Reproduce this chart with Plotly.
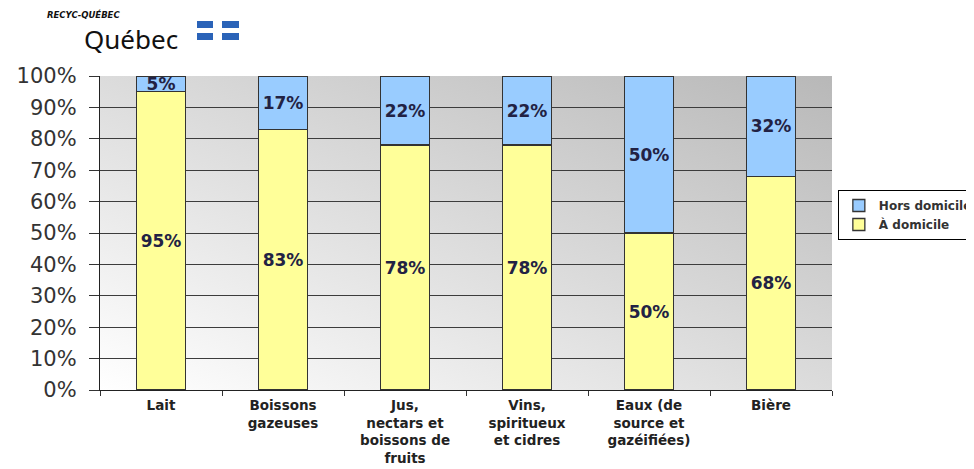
import base64
import plotly.graph_objects as go

categories = [
    "Lait",
    "Boissons<br>gazeuses",
    "Jus,<br>nectars et<br>boissons de<br>fruits",
    "Vins,<br>spiritueux<br>et cidres",
    "Eaux (de<br>source et<br>gazéifiées)",
    "Bière",
]
a_domicile = [95, 83, 78, 78, 50, 68]
hors_domicile = [5, 17, 22, 22, 50, 32]
y_ticks = [0, 10, 20, 30, 40, 50, 60, 70, 80, 90, 100]
y_tick_labels = [f"{v}%" for v in y_ticks]

text_color = "#222244"
bar_font = dict(family="DejaVu Sans", size=17, color=text_color)

fig = go.Figure()
fig.add_trace(go.Bar(
    name="<b>À domicile</b>", x=categories, y=a_domicile,
    marker=dict(color="#FFFF99", line=dict(color="#333333", width=1.3)),
    text=[f"<b>{v}%</b>" for v in a_domicile],
    textposition="inside", insidetextanchor="middle", textangle=0,
    constraintext="none", textfont=bar_font,
))
fig.add_trace(go.Bar(
    name="<b>Hors domicile</b>", x=categories, y=hors_domicile,
    marker=dict(color="#99CCFF", line=dict(color="#333333", width=1.3)),
    text=[f"<b>{v}%</b>" for v in hors_domicile],
    textposition="inside", insidetextanchor="middle", textangle=0,
    constraintext="none", textfont=bar_font,
))

svg = (
    '<svg xmlns="http://www.w3.org/2000/svg" width="732" height="314" '
    'viewBox="0 0 732 314" preserveAspectRatio="none">'
    '<defs><linearGradient id="g" x1="0" y1="1" x2="1" y2="0">'
    '<stop offset="0" stop-color="#ffffff"/>'
    '<stop offset="1" stop-color="#b8b8b8"/>'
    '</linearGradient></defs>'
    '<rect width="732" height="314" fill="url(#g)"/></svg>'
)
bg_src = "data:image/svg+xml;base64," + base64.b64encode(svg.encode()).decode()

# page has an 8px body margin: figure is offset by 8px (plot area: x 100-832, y 76-390)
fig.update_layout(
    width=966, height=461,
    margin=dict(l=92, r=142, t=68, b=79, autoexpand=False),
    barmode="stack", bargap=0.6,
    paper_bgcolor="white", plot_bgcolor="rgba(0,0,0,0)",
    font=dict(family="DejaVu Sans", color="#333333"),
    images=[dict(source=bg_src, xref="paper", yref="paper", x=0, y=1,
                 sizex=1, sizey=1, xanchor="left", yanchor="top",
                 sizing="stretch", layer="below")],
    legend=dict(
        x=1.008, y=0.637, xanchor="left", yanchor="top",
        traceorder="reversed",
        bgcolor="white", bordercolor="#000000", borderwidth=1,
        font=dict(family="DejaVu Sans", size=12, color="#333333"),
        itemwidth=30, tracegroupgap=0,
    ),
    showlegend=True,
)
fig.update_xaxes(
    automargin=False,
    tickson="boundaries", ticks="outside", ticklen=5, tickcolor="#333333",
    ticklabelstandoff=3,
    showline=True, linecolor="#222222", linewidth=1.3,
    tickfont=dict(family="DejaVu Sans", size=13.5, color="#222222"),
    tickangle=0,
    tickvals=categories, ticktext=[f"<b>{c}</b>" for c in categories],
)
fig.update_yaxes(
    automargin=False,
    range=[0, 100], tickvals=y_ticks, ticktext=y_tick_labels,
    ticks="outside", ticklen=10, tickcolor="#333333", ticklabelstandoff=8,
    showline=True, linecolor="#222222", linewidth=1.3,
    showgrid=True, gridcolor="#3c3c3c", gridwidth=1.3,
    tickfont=dict(family="DejaVu Sans", size=21, color="#333333"),
    zeroline=False,
)

# Logo (paper coords relative to plot area: left=100px, width=732px, bottom=390px, height=314px)
def px(x):
    return (x - 100) / 732

def py(y):
    return (390 - y) / 314

fig.add_annotation(text="<b><i>RECYC-QUÉBEC</i></b>", xref="paper", yref="paper",
                   x=px(45), y=py(14.5), xanchor="left", yanchor="middle", showarrow=False,
                   font=dict(family="DejaVu Sans", size=8.5, color="#111111"))
fig.add_annotation(text="Québec", xref="paper", yref="paper",
                   x=px(82), y=py(39), xanchor="left", yanchor="middle", showarrow=False,
                   font=dict(family="Noto Sans", size=26, color="#111111"))
for qx0, qx1 in [(197, 213), (222, 239)]:
    for qy0, qy1 in [(21, 28), (33, 40)]:
        fig.add_shape(type="rect", xref="paper", yref="paper",
                      x0=px(qx0), x1=px(qx1), y0=py(qy1), y1=py(qy0),
                      fillcolor="#2a63b8", line=dict(width=0))
        fig.add_annotation(text="⚜", xref="paper", yref="paper",
                           x=px((qx0 + qx1) / 2), y=py((qy0 + qy1) / 2),
                           showarrow=False,
                           font=dict(family="DejaVu Sans", size=7, color="white"))

fig.write_html("out.html")
